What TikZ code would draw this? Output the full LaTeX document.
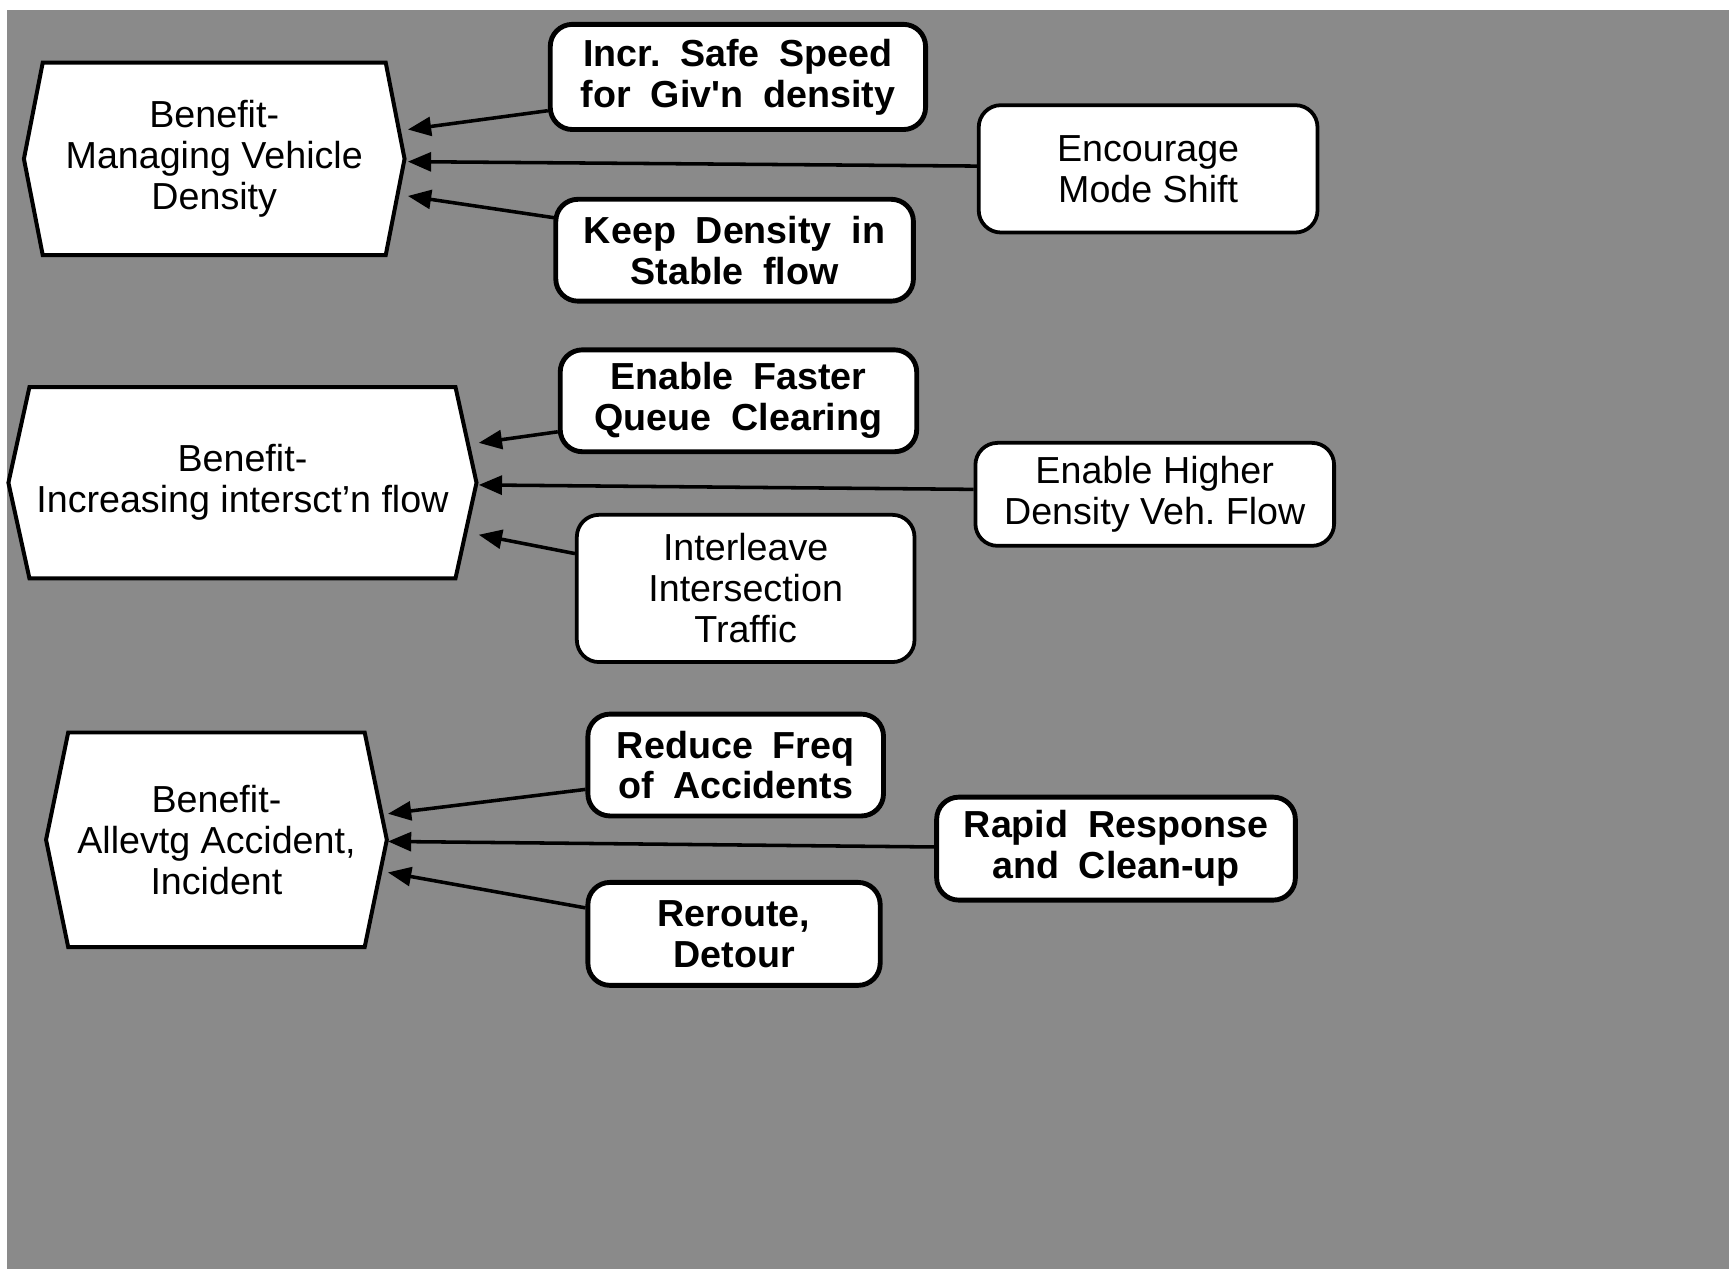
\documentclass[tikz,border=0pt]{standalone}
\usepackage{fontspec}
\setmainfont{Liberation Sans}
\newfontfamily\widebold{Liberation Sans Bold}[WordSpace=1.9]
\usetikzlibrary{arrows.meta,calc,backgrounds}
\frenchspacing

\begin{document}
\begin{tikzpicture}[x=0.5pt,y=-0.5pt,
  benefit/.style={align=center, inner sep=0pt,
    font=\fontsize{17}{18.5}\selectfont},
  plainbox/.style={draw=black, line width=1.7pt, fill=white,
    rounded corners=10pt, align=center, inner sep=0pt,
    font=\fontsize{17}{18.5}\selectfont},
  boldbox/.style={plainbox, line width=2.2pt,
    font=\widebold\fontsize{17}{18.5}\selectfont},
  feed/.style={line width=1.6pt, -{Triangle[length=10.5pt,width=8.5pt]}},
  hexline/.style={draw=black, line width=1.8pt, fill=white, line join=miter}]

\useasboundingbox (0,0) rectangle (1568,1161);

% benefit hexagons (text nodes; outlines drawn behind)
\node[benefit, minimum width=171.5pt, minimum height=86.5pt] (h1) at (193.5,143.5)
  {Benefit-\\Managing Vehicle\\Density};
\node[benefit, minimum width=211pt, minimum height=86pt] (h2) at (219,436)
  {Benefit-\\Increasing intersct'n flow};
\node[benefit, minimum width=153.5pt, minimum height=96.5pt] (h3) at (195.5,758.5)
  {Benefit-\\Allevtg Accident,\\Incident};

\begin{scope}[on background layer]
  \fill[black!46] (6,9) rectangle (1562,1146);
  \foreach \h/\d in {h1/17, h2/19, h3/20} {
    \draw[hexline] (\h.west) -- ($(\h.north west)+(\d,0)$)
      -- ($(\h.north east)+(-\d,0)$) -- (\h.east)
      -- ($(\h.south east)+(-\d,0)$) -- ($(\h.south west)+(\d,0)$) -- cycle;
  }
\end{scope}

% contributing measures
\node[boldbox, minimum width=169.5pt, minimum height=47.5pt] (speed) at (666.5,69.5)
  {Incr. Safe Speed\\for Giv'n density};
\node[plainbox, minimum width=153pt, minimum height=57.5pt] (mode) at (1037,152.5)
  {Encourage\\Mode Shift};
\node[boldbox, minimum width=161.5pt, minimum height=46pt] (stable) at (663.5,226)
  {Keep Density in\\Stable flow};

\node[boldbox, minimum width=161pt, minimum height=46pt] (queue) at (667,362)
  {Enable Faster\\Queue Clearing};
\node[plainbox, minimum width=162pt, minimum height=46.5pt] (higher) at (1043,446.5)
  {Enable Higher\\Density Veh. Flow};
\node[plainbox, minimum width=152.5pt, minimum height=66.5pt] (interleave) at (673.5,531.5)
  {Interleave\\Intersection\\Traffic};

\node[boldbox, minimum width=133.5pt, minimum height=46pt] (freq) at (664.5,691)
  {Reduce Freq\\of Accidents};
\node[boldbox, minimum width=162pt, minimum height=46.5pt] (rapid) at (1008,766.5)
  {Rapid Response\\and Clean-up};
\node[boldbox, minimum width=132pt, minimum height=46.5pt] (detour) at (663,843.5)
  {Reroute,\\Detour};

% connectors
\draw[feed] ($(speed.west)+(0,30.5)$) -- ($(h1.east)+(3,-26.5)$);
\draw[feed] ($(mode.west)+(0,-2.5)$) -- ($(h1.east)+(3,2.5)$);
\draw[feed] ($(stable.west)+(3,-29)$) -- ($(h1.east)+(3,33.5)$);

\draw[feed] ($(queue.west)+(0,28)$) -- ($(h2.east)+(2,-36)$);
\draw[feed] ($(higher.west)+(0,-4.5)$) -- ($(h2.east)+(2,2)$);
\draw[feed] ($(interleave.west)+(0,-31.5)$) -- ($(h2.east)+(2,47)$);

\draw[feed] ($(freq.west)+(0,22)$) -- ($(h3.east)+(1,-23.5)$);
\draw[feed] ($(rapid.west)+(0,-1.5)$) -- ($(h3.east)+(1,1.5)$);
\draw[feed] ($(detour.west)+(0,-23.5)$) -- ($(h3.east)+(1,29.5)$);
\end{tikzpicture}
\end{document}
